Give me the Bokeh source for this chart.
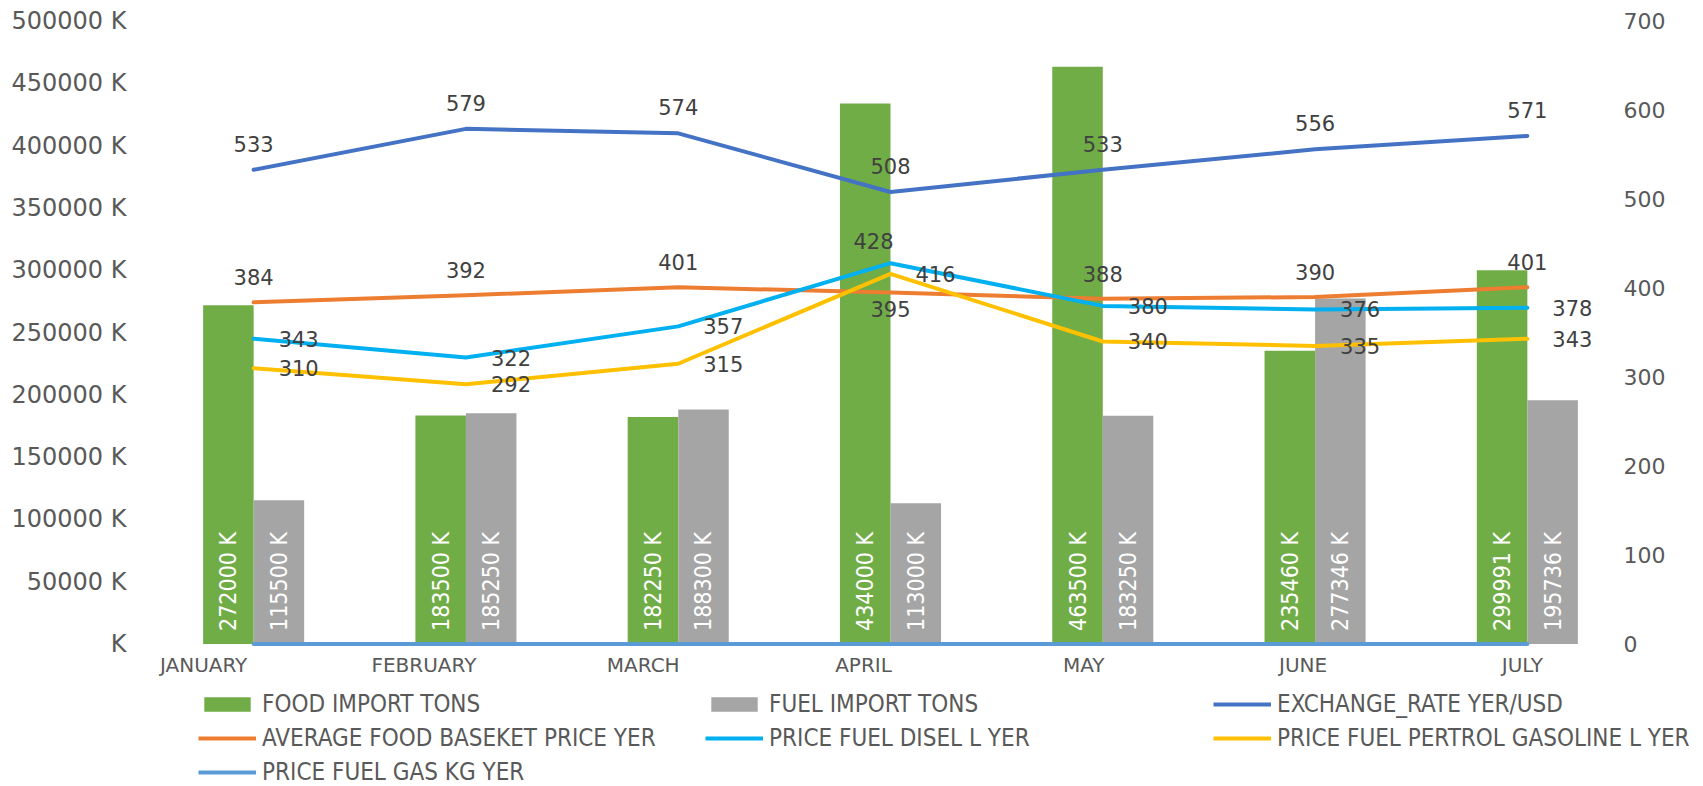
import math
from bokeh.plotting import figure
from bokeh.layouts import column
from bokeh.models import (FactorRange, Range1d, LinearAxis, FixedTicker,
                          CustomJSTickFormatter, ColumnDataSource, Legend, LegendItem)
from bokeh.transform import dodge
from bokeh.core.properties import value
from bokeh.embed import file_html
from bokeh.resources import INLINE

# ---------------- data ----------------
months = ["JANUARY", "FEBRUARY", "MARCH", "APRIL", "MAY", "JUNE", "JULY"]
food_import = [272000, 183500, 182250, 434000, 463500, 235460, 299991]
fuel_import = [115500, 185250, 188300, 113000, 183250, 277346, 195736]
exchange_rate = [533, 579, 574, 508, 533, 556, 571]
food_basket = [384, 392, 401, 395, 388, 390, 401]
diesel = [343, 322, 357, 428, 380, 376, 378]
petrol = [310, 292, 315, 416, 340, 335, 343]
gas = [0, 0, 0, 0, 0, 0, 0]
left_ticks = [0, 50000, 100000, 150000, 200000, 250000, 300000, 350000, 400000, 450000, 500000]
right_ticks = [0, 100, 200, 300, 400, 500, 600, 700]

# ---------------- layout / style ----------------
W = 1703
H_MAIN, H_LEG = 690, 96
LEFT, RIGHT = 147, 70
TOP_PX, ZERO_PX = 20.7, 643.5
per_l = 500000 / (ZERO_PX - TOP_PX)
per_r = 700 / (ZERO_PX - TOP_PX)

GREEN, GRAY = "#70AD47", "#A5A5A5"
C_EX, C_BASKET, C_DIESEL, C_PETROL, C_GAS = "#4472C4", "#ED7D31", "#00B0F0", "#FFC000", "#5B9BD5"
AX_COLOR = "#595959"
LBL_COLOR = "#404040"
MAIN_FONT = "DejaVu Sans"
NARROW_FONT = "DejaVu Sans Condensed"

BAR_W = 0.238
BAR_OFF = 0.119

# label offsets (pixels), style only
month_dx = [-50, -42, -35, -27, -19, -12, -5]
basket_dy = [-25, -25, -25, 16, -25, -25, -25]
diesel_dx = [25, 25, 25, -37, 25, 25, 25]
diesel_dy = [0, 0, 0, -22, 0, 0, 0]

src = ColumnDataSource(dict(
    month=months,
    food=food_import, fuel=fuel_import,
    ex=exchange_rate, basket=food_basket, diesel=diesel, petrol=petrol, gas=gas,
    food_lbl=[f"{v} K" for v in food_import],
    fuel_lbl=[f"{v} K" for v in fuel_import],
    ex_lbl=[str(v) for v in exchange_rate],
    basket_lbl=[str(v) for v in food_basket],
    diesel_lbl=[str(v) for v in diesel],
    petrol_lbl=[str(v) for v in petrol],
    month_dx=month_dx, basket_dy=basket_dy, diesel_dx=diesel_dx, diesel_dy=diesel_dy,
))

p = figure(width=W, height=H_MAIN,
           x_range=FactorRange(*months),
           y_range=Range1d(-(H_MAIN - ZERO_PX) * per_l, 500000 + TOP_PX * per_l),
           output_backend="svg", toolbar_location=None, x_axis_location=None,
           min_border_left=LEFT, min_border_right=RIGHT,
           min_border_top=0, min_border_bottom=0)
p.frame_align = False
p.outline_line_color = None
p.xgrid.grid_line_color = None
p.ygrid.grid_line_color = None
p.border_fill_color = "white"

p.extra_y_ranges = {"r": Range1d(-(H_MAIN - ZERO_PX) * per_r, 700 + TOP_PX * per_r)}

# left axis
la = p.yaxis[0]
la.ticker = FixedTicker(ticks=left_ticks)
la.formatter = CustomJSTickFormatter(code="return tick == 0 ? 'K' : tick + ' K';")
la.axis_line_color = None
la.major_tick_line_color = None
la.minor_tick_line_color = None
la.major_label_standoff = 15
la.major_label_text_font = MAIN_FONT
la.major_label_text_font_size = "24px"
la.major_label_text_color = AX_COLOR

ra = LinearAxis(y_range_name="r", ticker=FixedTicker(ticks=right_ticks))
ra.axis_line_color = None
ra.major_tick_line_color = None
ra.minor_tick_line_color = None
ra.major_label_standoff = -16
ra.major_label_text_font = MAIN_FONT
ra.major_label_text_font_size = "22px"
ra.major_label_text_color = AX_COLOR
p.add_layout(ra, "right")

# bars
p.vbar(x=dodge("month", -BAR_OFF, range=p.x_range), top="food", width=BAR_W,
       source=src, fill_color=GREEN, line_color=None)
p.vbar(x=dodge("month", BAR_OFF, range=p.x_range), top="fuel", width=BAR_W,
       source=src, fill_color=GRAY, line_color=None)

# lines
for col, color in (("ex", C_EX), ("basket", C_BASKET), ("diesel", C_DIESEL),
                   ("petrol", C_PETROL), ("gas", C_GAS)):
    p.line(x="month", y=col, source=src, y_range_name="r", line_width=4,
           line_color=color, line_join="round", line_cap="round")

# bar labels
for off, col in ((-BAR_OFF, "food_lbl"), (BAR_OFF, "fuel_lbl")):
    p.text(x=dodge("month", off, range=p.x_range), y=0, text=col, source=src,
           angle=math.pi / 2, text_align="left", text_baseline="middle",
           y_offset=-13, text_color="white",
           text_font=value(NARROW_FONT), text_font_size="23px")

# line data labels
common = dict(source=src, y_range_name="r", text_baseline="middle",
              text_font=value(MAIN_FONT), text_font_size="21px", text_color=LBL_COLOR)
p.text(x="month", y="ex", text="ex_lbl", text_align="center", y_offset=-26, **common)
p.text(x="month", y="basket", text="basket_lbl", text_align="center", y_offset="basket_dy", **common)
p.text(x="month", y="diesel", text="diesel_lbl", text_align="left",
       x_offset="diesel_dx", y_offset="diesel_dy", **common)
p.text(x="month", y="petrol", text="petrol_lbl", text_align="left", x_offset=25, **common)

# category labels
p.text(x="month", y=0, text="month", source=src, x_offset="month_dx", y_offset=20.5,
       text_align="center", text_baseline="middle",
       text_font=value(MAIN_FONT), text_font_size="20px", text_color=AX_COLOR)

# ---------------- legend strip ----------------
q = figure(width=W, height=H_LEG, x_range=Range1d(0, 1), y_range=Range1d(0, 1),
           output_backend="svg", toolbar_location=None,
           x_axis_location=None, y_axis_location=None,
           min_border_left=0, min_border_right=0, min_border_top=0, min_border_bottom=0)
q.frame_align = False
q.outline_line_color = None
q.xgrid.grid_line_color = None
q.ygrid.grid_line_color = None

# legend key glyphs (kept outside the visible range of the strip)
k_food = q.vbar(x=[-5], top=[-5], bottom=[-6], width=0.1, fill_color=GREEN, line_color=None)
k_fuel = q.vbar(x=[-5], top=[-5], bottom=[-6], width=0.1, fill_color=GRAY, line_color=None)
k = {}
for col, color in (("ex", C_EX), ("basket", C_BASKET), ("diesel", C_DIESEL),
                   ("petrol", C_PETROL), ("gas", C_GAS)):
    k[col] = q.line(x=[-5, -4], y=[-5, -5], line_width=4, line_color=color)


def mklegend(items, loc):
    lg = Legend(items=items, location=loc, orientation="vertical")
    lg.border_line_color = None
    lg.background_fill_alpha = 0
    lg.padding = 0
    lg.margin = 0
    lg.spacing = 6
    lg.glyph_width = 58
    lg.glyph_height = 18
    lg.label_height = 28
    lg.label_standoff = 6
    lg.label_text_font = NARROW_FONT
    lg.label_text_font_size = "24px"
    lg.label_text_color = AX_COLOR
    lg.label_text_baseline = "middle"
    q.add_layout(lg, "center")


mklegend([LegendItem(label="FOOD IMPORT TONS", renderers=[k_food]),
          LegendItem(label="AVERAGE FOOD BASEKET PRICE YER", renderers=[k["basket"]]),
          LegendItem(label="PRICE FUEL GAS KG YER", renderers=[k["gas"]])], (198, 0))
mklegend([LegendItem(label="FUEL IMPORT TONS", renderers=[k_fuel]),
          LegendItem(label="PRICE FUEL DISEL L YER", renderers=[k["diesel"]])], (705, 34))
mklegend([LegendItem(label="EXCHANGE_RATE YER/USD", renderers=[k["ex"]]),
          LegendItem(label="PRICE FUEL PERTROL GASOLINE L YER", renderers=[k["petrol"]])], (1213, 34))

layout = column(p, q, spacing=0)
open("out.html", "w").write(file_html(layout, INLINE))
